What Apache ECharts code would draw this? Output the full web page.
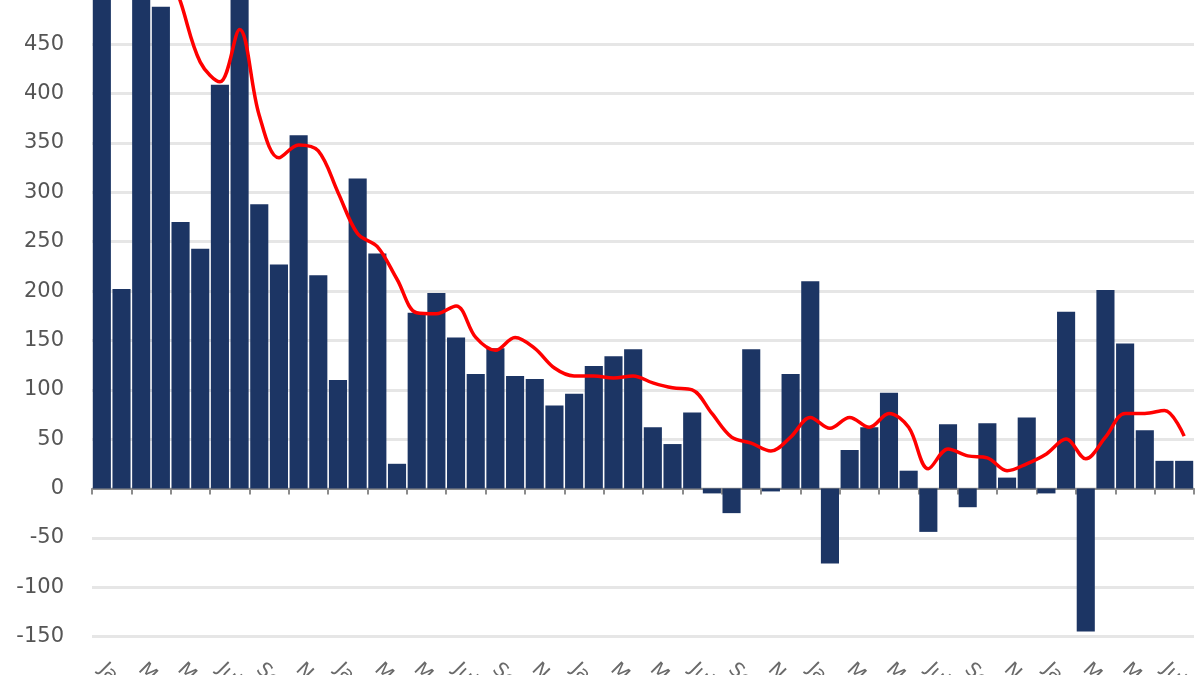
<!DOCTYPE html>
<html>
<head>
<meta charset="utf-8">
<script src="https://cdn.jsdelivr.net/npm/echarts@6/dist/echarts.min.js"></script>
<style>
  html, body { margin: 0; padding: 0; background: #ffffff; }
  #chart { width: 1200px; height: 675px; }
</style>
</head>
<body>
<div id="chart"></div>
<script>
// Category labels (monthly periods; drawn rotated and mostly cut off at the bottom edge)
const categories = [
  "Jan-04","Feb-04","Mar-04","Apr-04","May-04","Jun-04","Jul-04","Aug-04","Sep-04","Oct-04","Nov-04","Dec-04",
  "Jan-05","Feb-05","Mar-05","Apr-05","May-05","Jun-05","Jul-05","Aug-05","Sep-05","Oct-05","Nov-05","Dec-05",
  "Jan-06","Feb-06","Mar-06","Apr-06","May-06","Jun-06","Jul-06","Aug-06","Sep-06","Oct-06","Nov-06","Dec-06",
  "Jan-07","Feb-07","Mar-07","Apr-07","May-07","Jun-07","Jul-07","Aug-07","Sep-07","Oct-07","Nov-07","Dec-07",
  "Jan-08","Feb-08","Mar-08","Apr-08","May-08","Jun-08","Jul-08","Aug-08"
];

// Bar values (navy columns)
const barValues = [
  540, 202, 525, 488, 270, 243, 409, 515, 288, 227,
  358, 216, 110, 314, 238, 25, 178, 198, 153, 116,
  142, 114, 111, 84, 96, 124, 134, 141, 62, 45,
  77, -5, -25, 141, -3, 116, 210, -76, 39, 62,
  97, 18, -44, 65, -19, 66, 11, 72, -5, 179,
  -145, 201, 147, 59, 28, 28
];

// Red trend line values
const lineValues = [
  null, null, null, 550, 493, 432, 412, 465, 378, 335,
  348, 342, 300, 258, 245, 212, 178, 177, 185, 153,
  140, 153, 142, 122, 114, 114, 112, 114, 107, 102,
  100, 76, 52, 46, 38, 52, 72, 61, 72, 62,
  76, 62, 20, 40, 33, 31, 18, 25, 35, 50,
  30, 52, 76, 76, 79, 53
];

// Y-axis range and step
const yMin = -150;
const yMax = 500;
const yStep = 50;

const chart = echarts.init(document.getElementById('chart'), null, { renderer: 'canvas' });

const labelFont = '"DejaVu Sans", Verdana, sans-serif';

chart.setOption({
  animation: false,
  backgroundColor: '#ffffff',
  grid: { left: 92, right: 6, top: -5, bottom: 38.5, containLabel: false, outerBoundsMode: 'none' },
  xAxis: [
    {
      type: 'category',
      data: categories,
      position: 'bottom',
      axisLine: { show: true, onZero: true, lineStyle: { color: '#8c8c8c', width: 2 } },
      axisTick: { show: true, interval: 1, length: 6, lineStyle: { color: '#8c8c8c', width: 2 } },
      axisLabel: { show: false },
      splitLine: { show: false }
    },
    {
      type: 'category',
      data: categories,
      position: 'bottom',
      axisLine: { show: false, onZero: false },
      axisTick: { show: false },
      axisLabel: {
        show: true,
        interval: 1,
        rotate: -45,
        margin: 30,
        color: '#6a6a6a',
        fontSize: 20,
        fontFamily: labelFont
      },
      splitLine: { show: false }
    }
  ],
  yAxis: {
    type: 'value',
    min: yMin,
    max: yMax,
    interval: yStep,
    axisLine: { show: false },
    axisTick: { show: false },
    axisLabel: {
      margin: 28,
      color: '#555555',
      fontSize: 21,
      fontFamily: labelFont,
      showMaxLabel: true,
      showMinLabel: true
    },
    splitLine: { show: true, lineStyle: { color: '#e6e6e6', width: 3 } }
  },
  series: [
    {
      type: 'bar',
      data: barValues,
      xAxisIndex: 0,
      barCategoryGap: '8%',
      itemStyle: { color: '#1c3564' },
      z: 2
    },
    {
      type: 'line',
      data: lineValues,
      xAxisIndex: 0,
      smooth: 0.35,
      showSymbol: false,
      symbol: 'none',
      connectNulls: false,
      lineStyle: { color: '#ff0000', width: 3.5 },
      z: 5
    }
  ]
});
</script>
</body>
</html>
